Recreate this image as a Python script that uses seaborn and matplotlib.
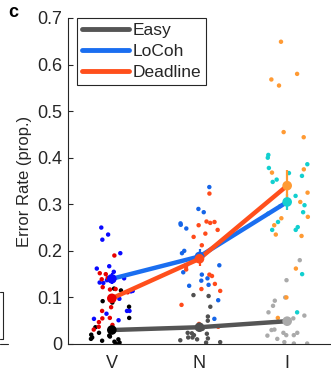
import numpy as np
import pandas as pd
import matplotlib
matplotlib.use("Agg")
import matplotlib.pyplot as plt
from matplotlib.lines import Line2D
import seaborn as sns

sns.set_style("white")
plt.rcParams["font.family"] = ["Liberation Sans", "DejaVu Sans"]

# ---------------- data ----------------
columns = ["V", "N", "I"]
conditions = ["Easy", "LoCoh", "Deadline"]

V_easy = [0.119, 0.115, 0.092, 0.089, 0.080, 0.056, 0.036, 0.024, 0.014, 0.018,
          0.020, 0.016, 0.010, 0.007, 0.003, 0.001, 0.011, 0.005]
V_locoh = [0.250, 0.235, 0.224, 0.195, 0.167, 0.162, 0.155, 0.141, 0.131, 0.132,
           0.137, 0.113, 0.114, 0.097, 0.071, 0.071, 0.065, 0.054, 0.051]
V_deadline = [0.190, 0.150, 0.152, 0.142, 0.141, 0.139, 0.122, 0.117, 0.111, 0.118,
              0.055, 0.071, 0.056, 0.047, 0.037, 0.041, 0.031, 0.079]

N_easy = [0.105, 0.103, 0.080, 0.059, 0.050, 0.019, 0.022, 0.014, 0.033, 0.023,
          0.010, 0.008, 0.014, 0.004, 0.024, 0.012, 0.003]
N_locoh = [0.337, 0.290, 0.283, 0.259, 0.256, 0.248, 0.200, 0.195, 0.154, 0.149,
           0.169, 0.169, 0.141, 0.136, 0.127, 0.125, 0.094, 0.054]
N_deadline = [0.323, 0.255, 0.262, 0.260, 0.263, 0.245, 0.237, 0.230, 0.212, 0.160,
              0.166, 0.149, 0.146, 0.114, 0.129, 0.118, 0.084, 0.043, 0.037]

I_easy = [0.180, 0.137, 0.100, 0.093, 0.082, 0.068, 0.061, 0.055, 0.030, 0.024,
          0.018, 0.031, 0.024, 0.019, 0.019, 0.011, 0.001, 0.001, 0.004]
I_locoh = [0.406, 0.400, 0.378, 0.386, 0.367, 0.361, 0.348, 0.353, 0.318, 0.298,
           0.296, 0.280, 0.283, 0.262, 0.251, 0.245, 0.245, 0.150, 0.068]
I_deadline = [0.649, 0.580, 0.568, 0.555, 0.455, 0.444, 0.368, 0.375, 0.305, 0.273,
              0.270, 0.255, 0.235, 0.232, 0.325, 0.162, 0.100, 0.056]

mean_easy = [0.030, 0.036, 0.049]
mean_locoh = [0.140, 0.188, 0.305]
mean_deadline = [0.098, 0.183, 0.340]
sem_easy = [0.006, 0.006, 0.010]
sem_locoh = [0.012, 0.015, 0.018]
sem_deadline = [0.010, 0.015, 0.034]

y_ticks = [0, 0.1, 0.2, 0.3, 0.4, 0.5, 0.6, 0.7]
y_label = "Error Rate (prop.)"
panel_label = "c"

# ---------------- styling ----------------
line_colors = {"Easy": "#555555", "LoCoh": "#1a6ef0", "Deadline": "#ff4f1c"}
dot_colors = {
    ("V", "Easy"): "#000000", ("V", "LoCoh"): "#0a0aff", ("V", "Deadline"): "#e80000",
    ("N", "Easy"): "#505050", ("N", "LoCoh"): "#1565e8", ("N", "Deadline"): "#ff4a1a",
    ("I", "Easy"): "#aaaaaa", ("I", "LoCoh"): "#12cfcf", ("I", "Deadline"): "#ff9a33",
}
text_color = "#262626"

raw = {
    ("V", "Easy"): V_easy, ("V", "LoCoh"): V_locoh, ("V", "Deadline"): V_deadline,
    ("N", "Easy"): N_easy, ("N", "LoCoh"): N_locoh, ("N", "Deadline"): N_deadline,
    ("I", "Easy"): I_easy, ("I", "LoCoh"): I_locoh, ("I", "Deadline"): I_deadline,
}
rows = []
for cond in ["Easy", "LoCoh", "Deadline"]:
    for col in columns:
        for v in raw[(col, cond)]:
            rows.append({"col": col, "cond": cond, "group": f"{col}-{cond}", "value": v})
df = pd.DataFrame(rows)
palette = {f"{c}-{k}": dot_colors[(c, k)] for (c, k) in dot_colors}

means = {"Easy": mean_easy, "LoCoh": mean_locoh, "Deadline": mean_deadline}
sems = {"Easy": sem_easy, "LoCoh": sem_locoh, "Deadline": sem_deadline}
pos = {c: i for i, c in enumerate(columns)}
mrows = []
for cond in conditions:
    for c, m, s in zip(columns, means[cond], sems[cond]):
        mrows.append({"x": pos[c], "col": c, "cond": cond, "group": f"{c}-{cond}",
                      "mean": m, "sem": s})
mdf = pd.DataFrame(mrows)

# ---------------- figure ----------------
W, H = 331, 371
fig = plt.figure(figsize=(W / 100, H / 100), dpi=100)
ax = fig.add_axes([68 / W, 1 - 344 / H, 263 / W, (344 - 18) / H])

np.random.seed(3)
sns.stripplot(data=df, x="col", y="value", hue="group", palette=palette,
              order=columns, jitter=0.25, size=3.2, linewidth=0,
              legend=False, ax=ax, zorder=2)

for cond in conditions:
    sub = mdf[mdf["cond"] == cond]
    sns.lineplot(data=sub, x="x", y="mean", color=line_colors[cond], lw=3.2,
                 sort=False, ax=ax, zorder=3, legend=False)
    for _, r in sub.iterrows():
        ax.errorbar(r["x"], r["mean"], yerr=r["sem"], color=palette[r["group"]],
                    lw=1.6, capsize=0, zorder=4)
sns.scatterplot(data=mdf, x="x", y="mean", hue="group", palette=palette,
                s=48, linewidth=0, legend=False, ax=ax, zorder=5)

ax.set_xlim(-0.5, 2.5)
ax.set_ylim(0, 0.7)
ax.set_xticks(range(len(columns)))
ax.set_xticklabels(columns)
ax.set_yticks(y_ticks)
ax.set_yticklabels([("0" if t == 0 else f"{t:.1f}") for t in y_ticks])
ax.set_xlabel("")
ax.set_ylabel(y_label, fontsize=12, color=text_color, labelpad=4)
ax.tick_params(axis="y", direction="in", length=3.5, width=0.8, colors=text_color,
               labelsize=13, pad=4, left=True)
ax.tick_params(axis="x", length=0, colors=text_color, labelsize=13, pad=8)
for s in ["top", "right"]:
    ax.spines[s].set_visible(False)
for s in ["left", "bottom"]:
    ax.spines[s].set_color(text_color)
    ax.spines[s].set_linewidth(0.8)
ax.set_facecolor("none")

handles = [Line2D([0], [0], color=line_colors[c], lw=3.5) for c in conditions]
leg = ax.legend(handles, conditions, loc="upper left", bbox_to_anchor=(0.033, 1.0),
                fontsize=12.5, frameon=True, fancybox=False, framealpha=1,
                edgecolor=text_color, handlelength=2.7, handletextpad=0.2,
                borderpad=0.3, labelspacing=0.32, borderaxespad=0)
leg.get_frame().set_linewidth(0.8)

fig.text(8 / W, 1 - 4 / H, panel_label, fontsize=13, fontweight="bold",
         va="top", ha="left", color="black")

# fragment of neighbouring panel at the left edge
fig.add_artist(Line2D([0, 3 / W, 3 / W, 0], [1 - 292 / H, 1 - 292 / H, 1 - 339 / H, 1 - 339 / H],
                      transform=fig.transFigure, color=text_color, lw=0.8))
fig.add_artist(Line2D([0, 8 / W], [1 - 344 / H, 1 - 344 / H],
                      transform=fig.transFigure, color=text_color, lw=0.8))

fig.savefig("out.png", dpi=100)
